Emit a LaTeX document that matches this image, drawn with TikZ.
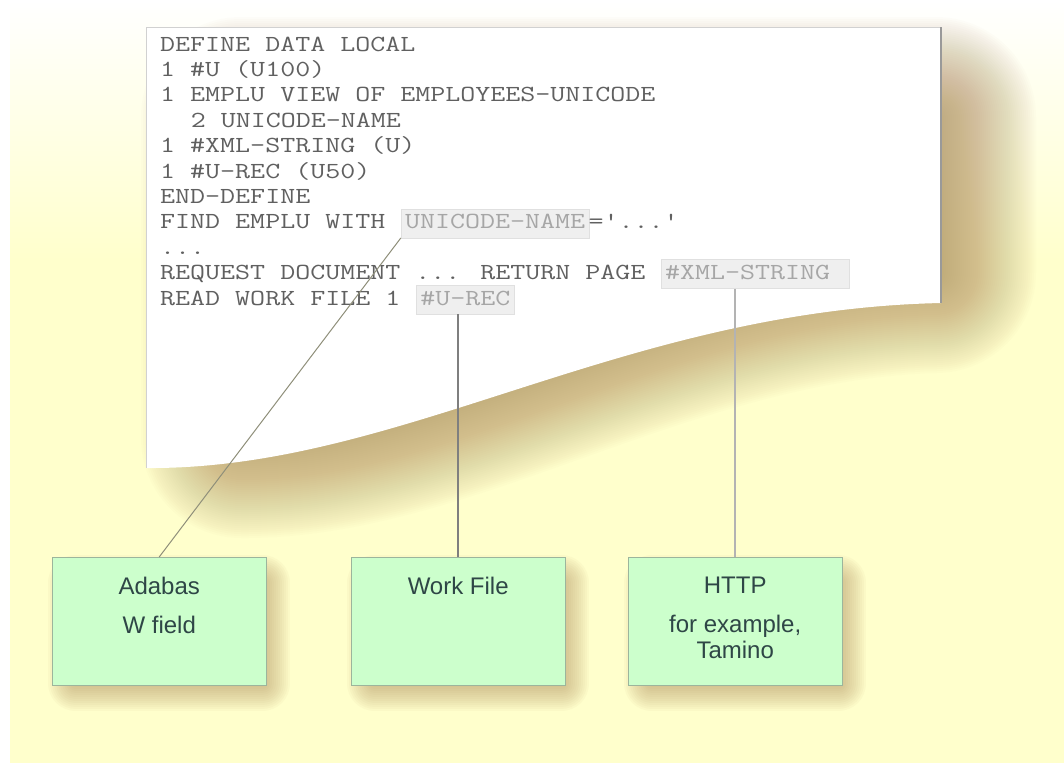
\documentclass[tikz,border=0pt]{standalone}
\usepackage{fontspec}
\usepackage{graphicx}
\newfontfamily\boxfont{Liberation Sans}
\usetikzlibrary{positioning}

\definecolor{bgyellow}{HTML}{FFFFCC}
\definecolor{shadowtan}{RGB}{175,140,90}
\definecolor{boxgreen}{HTML}{CCFFCC}
\definecolor{boxline}{HTML}{9CB59C}
\definecolor{codegray}{HTML}{606060}
\definecolor{marktext}{HTML}{A6A6A6}
\definecolor{markfill}{HTML}{EFEFEF}
\definecolor{markline}{HTML}{E0E0E0}
\definecolor{boxtext}{HTML}{2E4646}
\definecolor{linkA}{HTML}{8F8F7A}
\definecolor{linkB}{HTML}{7F7F7F}
\definecolor{linkC}{HTML}{B3B3B3}

\pgfdeclarelayer{bg}
\pgfdeclarelayer{shade}
\pgfsetlayers{bg,shade,main}

\newcommand{\codetxt}[1]{\scalebox{1.267}[1]{#1}}
\def\paperpath{(146,27) -- (941,27) -- (941,303) .. controls (620,310) and (400,470) .. (146,468) -- cycle}
% paper outline pulled in by #1
\newcommand{\insetpaper}[1]{(146+#1,27+#1) -- (941-#1,27+#1) -- (941-#1,303-1.4*#1) .. controls (620,310-1.4*#1) and (400,470-1.4*#1) .. (146+#1,468-1.4*#1) -- cycle}
\def\outerpath{(-100,-100) -- (-100,900) -- (1200,900) -- (1200,-100) -- cycle}

\tikzset{
  code/.style={anchor=base west, inner sep=0pt, text=codegray,
    font=\fontsize{23}{25}\selectfont\ttfamily},
  codemark/.style={code, text=marktext, fill=markfill, draw=markline,
    inner xsep=4pt, inner ysep=6pt, text height=14pt, text depth=3pt},
  srcbox/.style={draw=boxline, fill=boxgreen, minimum width=214pt,
    minimum height=128pt, inner sep=0pt, anchor=north west},
  boxlabel/.style={anchor=north, inner sep=0pt, align=center, text=boxtext,
    font=\boxfont\fontsize{24}{26}\selectfont},
  link/.style={line width=1.5pt},
  blurband/.style={draw=shadowtan, line join=round},
}

\begin{document}
\begin{tikzpicture}[x=1pt, y=-1pt]
		\useasboundingbox (0,0) rectangle (1064,763);
		
		%%%%% BACKGROUND %%%%%
		\begin{pgfonlayer}{bg}
			\fill[white] (0,0) rectangle (1064,763);
			\shade[top color=white, bottom color=bgyellow] (10,0) rectangle (1064,260);
			\fill[bgyellow] (10,259) rectangle (1064,763);
		\end{pgfonlayer}
		
		%%%%% PAPER SHADOW %%%%%
		\begin{pgfonlayer}{shade}
			\begin{scope}[shift={(45,40)}]
				\fill[shadowtan, opacity=0.65] \insetpaper{50};
				\begin{scope}
					\clip \insetpaper{50} \outerpath;
					\foreach \g in {2,4,...,100}
						\draw[blurband, opacity=0.0208, line width=2*\g] \insetpaper{50};
				\end{scope}
			\end{scope}
		\end{pgfonlayer}
		
		%%%%% PAPER %%%%%
		\fill[white] \paperpath;
		\draw[black!18] (146,468) -- (146,27) -- (941,27);
		\draw[black!40, line width=1.2pt] (941,27) -- (941,303);
		
		%%%%% CODE %%%%%
		\node[code] (l1) at (160,51) {\codetxt{DEFINE DATA LOCAL}};
		\node[code] (l2) at (160,76.4) {\codetxt{1 \#U (U100)}};
		\node[code] (l3) at (160,101.8) {\codetxt{1 EMPLU VIEW OF EMPLOYEES-UNICODE}};
		\node[code] (l4) at (190.6,127.2) {\codetxt{2 UNICODE-NAME}};
		\node[code] (l5) at (160,152.6) {\codetxt{1 \#XML-STRING (U)}};
		\node[code] (l6) at (160,178) {\codetxt{1 \#U-REC (U50)}};
		\node[code] (l7) at (160,203.4) {\codetxt{END-DEFINE}};
		
		\node[code] (l8) at (160,228.8) {\codetxt{FIND EMPLU WITH}};
		\node[codemark] (hUni) at (400.8,228.8) {\codetxt{UNICODE-NAME}};
		\node[code] (l8b) at (588.4,228.8) {\codetxt{='...'}};
		
		\node[code] (l9) at (160,254.2) {\codetxt{...}};
		
		\node[code] (l10) at (160,279.6) {\codetxt{REQUEST DOCUMENT ... RETURN PAGE}};
		\node[codemark] (hXml) at (660.9,279.6) {\codetxt{\#XML-STRING\ }};
		
		\node[code] (l11) at (160,305) {\codetxt{READ WORK FILE 1}};
		\node[codemark] (hRec) at (416.1,305) {\codetxt{\#U-REC}};
		
		%%%%% TARGET BOXES %%%%%
		\node[srcbox] (adabas) at (52,557) {};
		\node[srcbox] (workfile) at (351,557) {};
		\node[srcbox] (http) at (628,557) {};
		
		\node[boxlabel, below=20pt of adabas.north] (adabasT) {Adabas\\[13pt]W field};
		\node[boxlabel, below=20pt of workfile.north] (workfileT) {Work File};
		\node[boxlabel, below=20pt of http.north] (httpT) {HTTP\\[13pt]for example,\\Tamino};
		
		%%%%% BOX SHADOWS %%%%%
		\begin{pgfonlayer}{shade}
			\foreach \b in {adabas,workfile,http}{
				\coordinate (snw) at ([shift={(24,26)}]\b.north west);
				\coordinate (sse) at ([shift={(-4,-2)}]\b.south east);
				\fill[shadowtan, opacity=0.5] (snw) rectangle (sse);
				\begin{scope}
					\clip (snw) -- (snw -| sse) -- (sse) -- (sse -| snw) -- cycle \outerpath;
					\foreach \g in {2,4,...,28}
						\draw[blurband, opacity=0.0483, line width=2*\g] (snw) rectangle (sse);
				\end{scope}
			}
		\end{pgfonlayer}
		
		%%%%% CONNECTORS %%%%%
		\draw[linkA, line width=1pt] (hUni.south west) -- (adabas.north);
		\draw[link, linkB] (hRec.south -| workfile.north) -- (workfile.north);
		\draw[link, linkC] (hXml.south -| http.north) -- (http.north);
		
		%%%%% END %%%%%
	\end{tikzpicture}
\end{document}
